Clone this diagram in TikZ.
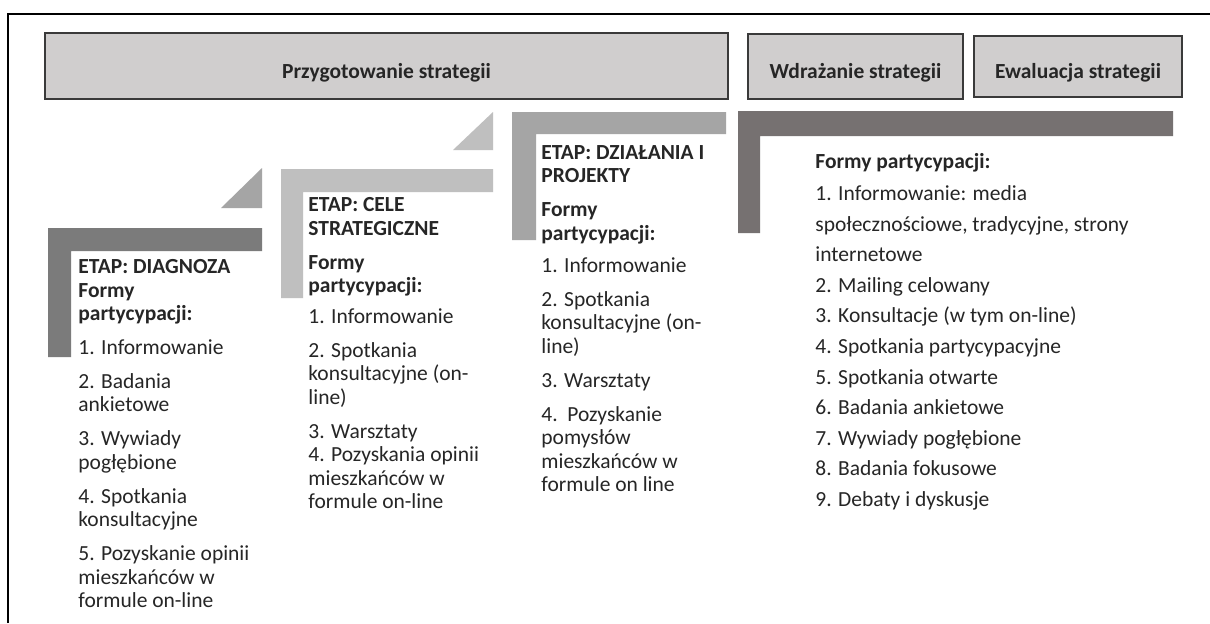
\documentclass[tikz,border=0pt]{standalone}
\usepackage{fontspec}
\setmainfont{Carlito}
\usetikzlibrary{positioning}
\definecolor{stagefill}{HTML}{D0CECE}
\definecolor{stageline}{HTML}{3A3A3A}
\definecolor{diaggray}{HTML}{7B7B7B}
\definecolor{diagtri}{HTML}{A5A5A5}
\definecolor{celegray}{HTML}{BFBFBF}
\definecolor{actgray}{HTML}{A5A5A5}
\definecolor{implgray}{HTML}{767171}
\definecolor{bodytext}{HTML}{262626}

\begin{document}
\begin{tikzpicture}[x=0.5pt,y=-0.5pt,
  stagebox/.style={draw=stageline,line width=1pt,fill=stagefill,inner sep=0pt,text height=12pt,text depth=0pt,font=\bfseries\fontsize{10.75}{12}\selectfont,text=bodytext},
  formtext/.style={anchor=north west,align=left,inner sep=0pt,text=bodytext,font=\fontsize{10.75}{11.75}\selectfont}]
\useasboundingbox (0,0) rectangle (1210,623);
\fill[white] (0,0) rectangle (1210,623);
% frame
\draw[line width=1.2pt] (8,623) -- (8,14) -- (1210,14);
% stages of the strategy
\node[stagebox,minimum width=341.5pt,minimum height=33pt,anchor=north west] (prep) at (44,32) {Przygotowanie strategii};
\node[stagebox,minimum width=107.5pt,minimum height=32.5pt,right=9pt of prep] (impl) {Wdrażanie strategii};
\node[stagebox,minimum width=104pt,minimum height=30.5pt,right=4.5pt of impl] (eval) {Ewaluacja strategii};
% steps
\fill[diaggray] (48,228) -- (262,228) -- (262,251) -- (71,251) -- (71,357) -- (48,357) -- cycle;
\fill[diagtri] (221,208) -- (262,208) -- (262,168) -- cycle;
\fill[celegray] (281,169) -- (493,169) -- (493,192) -- (303,192) -- (303,298) -- (281,298) -- cycle;
\fill[celegray] (453,150) -- (493,150) -- (493,112) -- cycle;
\fill[actgray] (512,112) -- (726,112) -- (726,134) -- (536,134) -- (536,240) -- (512,240) -- cycle;
\fill[implgray] (738,111) -- (1173,111) -- (1173,136) -- (760,136) -- (760,233) -- (738,233) -- cycle;
% forms of participation
\node[formtext] (diag) at (78,259) {\textbf{ETAP: DIAGNOZA}\\\textbf{Formy}\\\textbf{partycypacji:}\\[5pt]
1. Informowanie\\[5.25pt]
2. Badania\\ankietowe\\[5.25pt]
3. Wywiady\\pogłębione\\[5.25pt]
4. Spotkania\\konsultacyjne\\[5.25pt]
5. Pozyskanie opinii\\mieszkańców w\\formule on-line};
\node[formtext] (cele) at (308,197) {\textbf{ETAP: CELE}\\\textbf{STRATEGICZNE}\\[5.25pt]\textbf{Formy}\\\textbf{partycypacji:}\\[3.5pt]
1. Informowanie\\[5.25pt]
2. Spotkania\\konsultacyjne (on-\\line)\\[5.25pt]
3. Warsztaty\\
4. Pozyskania opinii\\mieszkańców w\\formule on-line};
\node[formtext] (act) at (541,145) {\textbf{ETAP: DZIAŁANIA I}\\\textbf{PROJEKTY}\\[5.25pt]\textbf{Formy}\\\textbf{partycypacji:}\\[4.25pt]
1. Informowanie\\[5.25pt]
2. Spotkania\\konsultacyjne (on-\\line)\\[5.25pt]
3. Warsztaty\\[5.25pt]
4.\ \ Pozyskanie\\pomysłów\\mieszkańców w\\formule on line};
\node[formtext,font=\fontsize{10.75}{15.3}\selectfont] (impforms) at (815,153) {\textbf{Formy partycypacji:}\\[0.7pt]
1. Informowanie: media\\społecznościowe, tradycyjne, strony\\internetowe\\
2. Mailing celowany\\3. Konsultacje (w tym on-line)\\4. Spotkania partycypacyjne\\5. Spotkania otwarte\\
6. Badania ankietowe\\7. Wywiady pogłębione\\8. Badania fokusowe\\9. Debaty i dyskusje};
\end{tikzpicture}
\end{document}
